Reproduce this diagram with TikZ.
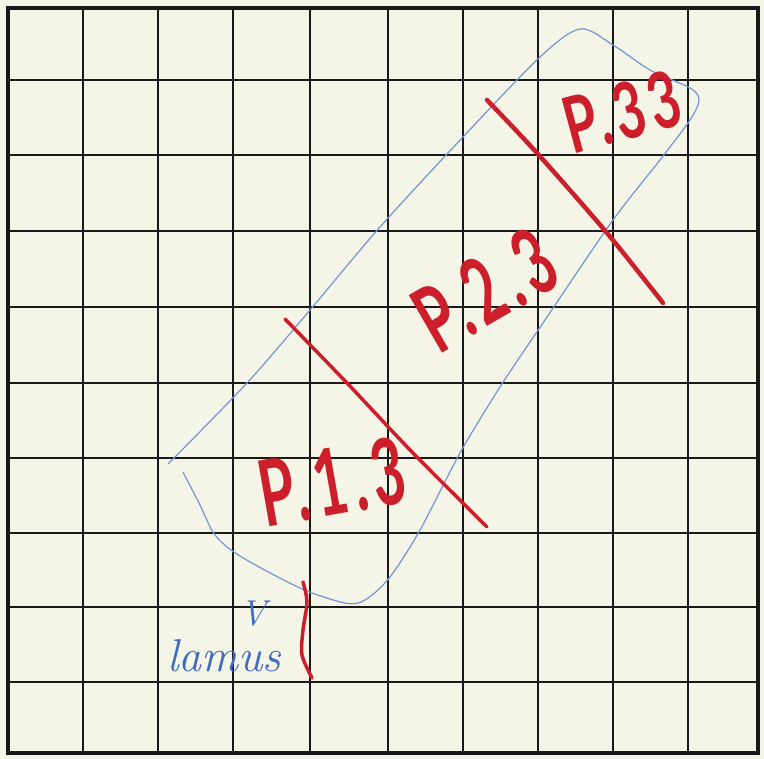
\documentclass[tikz,border=0pt]{standalone}
\usepackage{fontspec}
\setsansfont{Lato}
\newfontfamily\markerfont[LetterSpace=10]{Lato}
\definecolor{paper}{HTML}{F4F5E6}
\definecolor{marker}{HTML}{CC1F2B}
\definecolor{pen}{HTML}{7394D6}
\definecolor{ink}{HTML}{3F69C2}
\begin{document}
\begin{tikzpicture}[x=1pt,y=-1pt,
    gridline/.style={black!90, line width=1.8pt},
    redmark/.style={marker, line width=4pt, line cap=round},
    parcel/.style={text=marker, inner sep=0pt, transform shape,
        font=\markerfont\bfseries\fontsize{92}{92}\selectfont}]
                \fill[paper] (0,0) rectangle (764,759);
                \useasboundingbox (0,0) rectangle (764,759);

                % squares of the sheet
                \foreach \x in {83,158,233,310,388,463,538,613,688}
                    \draw[gridline] (\x,8) -- (\x,753);
                \foreach \y in {80,155,231,307,383,458,533,607,682}
                    \draw[gridline] (8,\y) -- (758,\y);
                \draw[black!90, line width=3.5pt] (8,8) rectangle (758,753);

                % blue outline of the plot
                \draw[pen, line width=1.2pt, line join=round] plot[smooth, tension=0.5] coordinates {
                    (168,464) (247,383) (310,310) (380,227) (463,137) (540,57)
                    (580,29) (613,45) (650,70) (690,88) (699,100) (690,120)
                    (660,160) (613,220) (547,317) (500,387) (460,453) (420,530)
                    (390,577) (365,600) (345,603) (300,588) (240,556) (215,535)
                    (200,505) (183,472)};

                % red dividing strokes
                \draw[redmark, line width=4.5pt] plot[smooth] coordinates {(487,100) (537,153) (607,233) (663,303)};
                \draw[redmark, line width=3.5pt] plot[smooth] coordinates {(285,319) (347,383) (413,453) (487,527)};
                \draw[redmark, line width=3.5pt] plot[smooth] coordinates {(303,582) (307,602) (303,630) (302,655) (312,678)};

                % parcel names
                \node[parcel, rotate=10, xscale=0.62] (p13) at (332,482) {P.1.3};
                \node[parcel, rotate=30, xscale=0.62] (p23) at (485,290) {P.2.3};
                \node[parcel, rotate=15, xscale=0.68, font=\markerfont\bfseries\fontsize{78}{78}\selectfont] (p33) at (622,112) {P.33};

                % signature
                \node[text=ink, font=\itshape\fontsize{46}{46}\selectfont, inner sep=0pt] (sig) at (224,656) {lamus};
                \node[text=ink, font=\itshape\fontsize{36}{36}\selectfont, inner sep=0pt] (tick) at (254,614) {V};
\end{tikzpicture}
\end{document}
